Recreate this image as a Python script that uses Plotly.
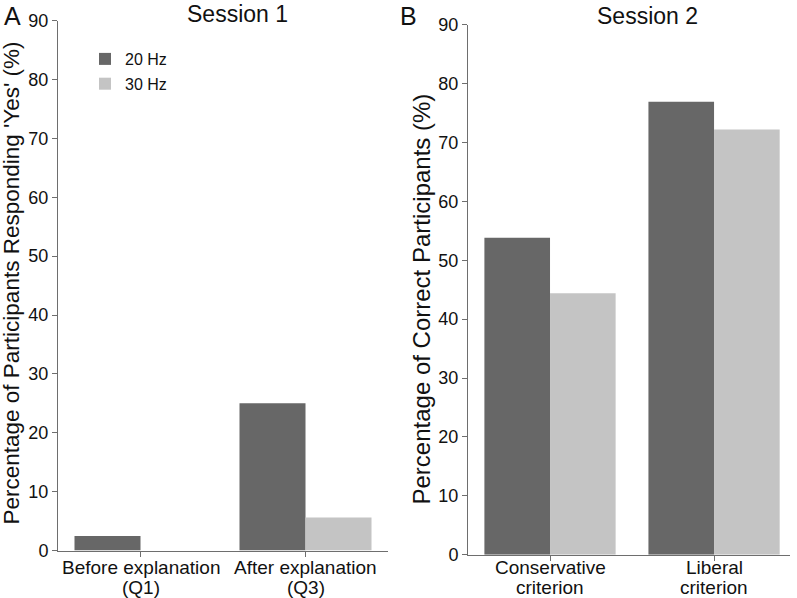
import plotly.graph_objects as go

# Data
cats_s1 = ["Before explanation (Q1)", "After explanation (Q3)"]
lab1_s1 = ["Before explanation", "After explanation"]
lab2_s1 = ["(Q1)", "(Q3)"]
s1_20hz = [2.5, 25.0]
s1_30hz = [0.0, 5.6]

cats_s2 = ["Conservative criterion", "Liberal criterion"]
lab1_s2 = ["Conservative", "Liberal"]
lab2_s2 = ["criterion", "criterion"]
s2_20hz = [53.8, 76.9]
s2_30hz = [44.4, 72.2]

y_ticks = [0, 10, 20, 30, 40, 50, 60, 70, 80, 90]

DARK = "#676767"
LIGHT = "#c4c4c4"
AXIS = "#6e6e6e"
TXT = "#111111"
FONT = "Liberation Sans, Arial, Helvetica, sans-serif"

W, H = 797, 598


def px_x(p):
    return p / W


def px_y(p):
    return 1 - p / H


fig = go.Figure()
fig.add_trace(go.Bar(x=cats_s1, y=s1_20hz, name="20 Hz", marker=dict(color=DARK, line=dict(width=0)),
                     xaxis="x", yaxis="y", legendgroup="20"))
fig.add_trace(go.Bar(x=cats_s1, y=s1_30hz, name="30 Hz", marker=dict(color=LIGHT, line=dict(width=0)),
                     xaxis="x", yaxis="y", legendgroup="30"))
fig.add_trace(go.Bar(x=cats_s2, y=s2_20hz, name="20 Hz", marker=dict(color=DARK, line=dict(width=0)),
                     xaxis="x2", yaxis="y2", showlegend=False))
fig.add_trace(go.Bar(x=cats_s2, y=s2_30hz, name="30 Hz", marker=dict(color=LIGHT, line=dict(width=0)),
                     xaxis="x2", yaxis="y2", showlegend=False))

common_y = dict(range=[0, 90], tickvals=y_ticks, showgrid=False, zeroline=False, automargin=False,
                showline=True, linecolor=AXIS, linewidth=1, ticks="outside", ticklen=5,
                tickcolor=AXIS, tickfont=dict(size=18, color=TXT))
common_x = dict(type="category", showgrid=False, zeroline=False, showline=True, linecolor=AXIS,
                automargin=False, linewidth=1, ticks="outside", ticklen=5, tickcolor=AXIS,
                showticklabels=False)

fig.update_layout(
    width=W, height=H,
    margin=dict(l=0, r=0, t=0, b=0, autoexpand=False),
    paper_bgcolor="white", plot_bgcolor="white",
    font=dict(family=FONT, color=TXT),
    barmode="group", bargap=0.2, bargroupgap=0,
    xaxis=dict(domain=[px_x(58), px_x(388)], range=[-0.5, 1.5], anchor="y", **common_x),
    yaxis=dict(domain=[px_y(550.6), px_y(20.5)], anchor="x", **common_y),
    xaxis2=dict(domain=[px_x(468), px_x(790)], range=[-0.5, 1.463], anchor="y2", **common_x),
    yaxis2=dict(domain=[px_y(554.7), px_y(24.6)], anchor="x2", **common_y),
    legend=dict(x=px_x(85), y=px_y(42), xanchor="left", yanchor="top",
                font=dict(size=16, color=TXT), bgcolor="rgba(0,0,0,0)",
                itemwidth=30, tracegroupgap=1),
    showlegend=True,
)

annos = [
    dict(text="Session 1", x=px_x(237), y=px_y(14), font=dict(size=23)),
    dict(text="Session 2", x=px_x(647), y=px_y(16), font=dict(size=23)),
    dict(text="A", x=px_x(12), y=px_y(16), font=dict(size=25)),
    dict(text="B", x=px_x(408), y=px_y(16), font=dict(size=25)),
    dict(text="Percentage of Participants Responding 'Yes' (%)", x=px_x(11), y=px_y(283.5),
         textangle=-90, font=dict(size=22.5)),
    dict(text="Percentage of Correct Participants (%)", x=px_x(421), y=px_y(299.5),
         textangle=-90, font=dict(size=24)),
]
for a in annos:
    fig.add_annotation(xref="paper", yref="paper", showarrow=False, xanchor="center",
                       yanchor="middle", **a)

# category labels (two lines each), placed at the category positions of each x axis
for xref, cats, l1, l2 in (("x", cats_s1, lab1_s1, lab2_s1), ("x2", cats_s2, lab1_s2, lab2_s2)):
    for c, t1, t2 in zip(cats, l1, l2):
        fig.add_annotation(xref=xref, yref="paper", x=c, y=px_y(567), text=t1, showarrow=False,
                           xanchor="center", yanchor="middle", font=dict(size=19))
        fig.add_annotation(xref=xref, yref="paper", x=c, y=px_y(587), text=t2, showarrow=False,
                           xanchor="center", yanchor="middle", font=dict(size=19))

fig.write_html(
    "out.html",
    config={"displayModeBar": False},
    post_script="document.body.style.margin='0';document.body.style.overflow='hidden';",
)
